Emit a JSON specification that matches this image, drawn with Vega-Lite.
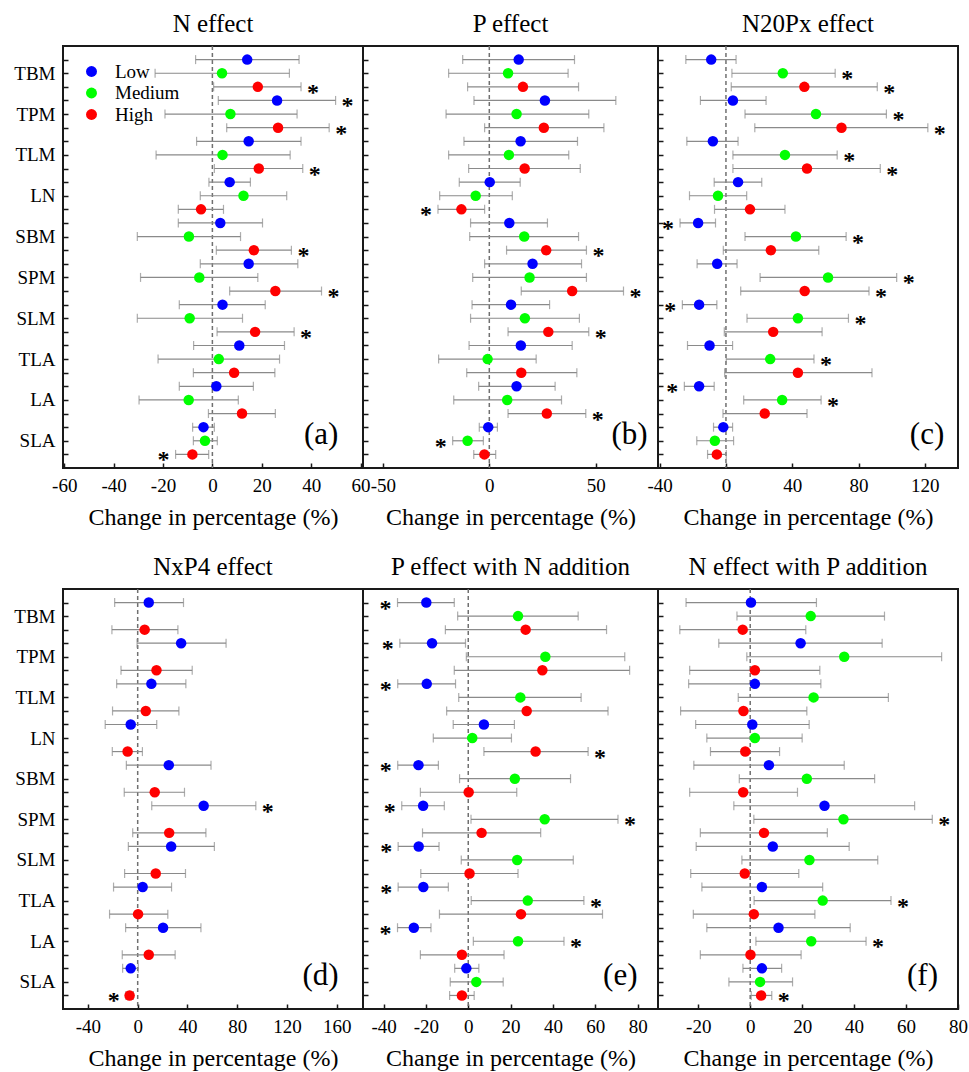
{
"$schema": "https://vega.github.io/schema/vega-lite/v6.json",
"padding": {"left": 12, "top": 11, "right": 0, "bottom": 0},
"config": {
 "font": "Liberation Serif",
 "view": {"stroke": "#1a1a1a", "strokeWidth": 2},
 "axis": {"domain": false, "grid": false, "tickColor": "#1a1a1a", "tickWidth": 1.5, "tickSize": -5, "labelFont": "Liberation Serif", "labelColor": "#000", "titleFont": "Liberation Serif", "titleColor": "#000", "titleFontWeight": "normal"},
 "axisX": {"labelFontSize": 19, "labelPadding": 13, "titleFontSize": 24, "titlePadding": 10, "labelOverlap": false, "labelFlush": false, "labelBound": false},
 "axisY": {"labelFontSize": 19, "labelPadding": 13, "minExtent": 0},
 "title": {"font": "Liberation Serif", "fontSize": 25, "fontWeight": "normal", "offset": 8, "color": "#000"}
},
"datasets": {"d": [
{"p":"a","k":"TBM Low","l":"Low","v":14.1,"lo":-6.8,"hi":35.1},
{"p":"a","k":"TBM Medium","l":"Medium","v":3.9,"lo":-23.2,"hi":31.2},
{"p":"a","k":"TBM High","l":"High","v":18.4,"lo":0.5,"hi":35.9,"s":"r"},
{"p":"a","k":"TPM Low","l":"Low","v":26.2,"lo":2.4,"hi":49.9,"s":"r"},
{"p":"a","k":"TPM Medium","l":"Medium","v":7.3,"lo":-19.2,"hi":34.3},
{"p":"a","k":"TPM High","l":"High","v":26.6,"lo":5.8,"hi":47.3,"s":"r"},
{"p":"a","k":"TLM Low","l":"Low","v":14.7,"lo":-6.4,"hi":35.9},
{"p":"a","k":"TLM Medium","l":"Medium","v":4.1,"lo":-22.8,"hi":31.5},
{"p":"a","k":"TLM High","l":"High","v":18.8,"lo":0.8,"hi":36.6,"s":"r"},
{"p":"a","k":"LN Low","l":"Low","v":7.0,"lo":-1.4,"hi":15.4},
{"p":"a","k":"LN Medium","l":"Medium","v":12.6,"lo":-4.9,"hi":30.1},
{"p":"a","k":"LN High","l":"High","v":-4.6,"lo":-13.8,"hi":4.5},
{"p":"a","k":"SBM Low","l":"Low","v":3.2,"lo":-13.8,"hi":20.3},
{"p":"a","k":"SBM Medium","l":"Medium","v":-9.5,"lo":-30.4,"hi":11.4},
{"p":"a","k":"SBM High","l":"High","v":16.8,"lo":1.6,"hi":32.0,"s":"r"},
{"p":"a","k":"SPM Low","l":"Low","v":14.7,"lo":-4.9,"hi":34.6},
{"p":"a","k":"SPM Medium","l":"Medium","v":-5.3,"lo":-29.1,"hi":18.4},
{"p":"a","k":"SPM High","l":"High","v":25.5,"lo":7.0,"hi":44.2,"s":"r"},
{"p":"a","k":"SLM Low","l":"Low","v":4.1,"lo":-13.4,"hi":21.4},
{"p":"a","k":"SLM Medium","l":"Medium","v":-9.2,"lo":-30.4,"hi":12.2},
{"p":"a","k":"SLM High","l":"High","v":17.3,"lo":1.9,"hi":33.1,"s":"r"},
{"p":"a","k":"TLA Low","l":"Low","v":10.9,"lo":-7.6,"hi":29.2},
{"p":"a","k":"TLA Medium","l":"Medium","v":2.6,"lo":-22.0,"hi":27.2},
{"p":"a","k":"TLA High","l":"High","v":8.8,"lo":-7.7,"hi":25.3},
{"p":"a","k":"LA Low","l":"Low","v":1.6,"lo":-13.4,"hi":16.6},
{"p":"a","k":"LA Medium","l":"Medium","v":-9.6,"lo":-29.7,"hi":10.5},
{"p":"a","k":"LA High","l":"High","v":12.0,"lo":-1.6,"hi":25.5},
{"p":"a","k":"SLA Low","l":"Low","v":-3.6,"lo":-8.0,"hi":0.8},
{"p":"a","k":"SLA Medium","l":"Medium","v":-3.0,"lo":-7.7,"hi":2.0},
{"p":"a","k":"SLA High","l":"High","v":-8.1,"lo":-14.9,"hi":-1.5,"s":"l"},
{"p":"b","k":"TBM Low","l":"Low","v":13.8,"lo":-12.5,"hi":40.0},
{"p":"b","k":"TBM Medium","l":"Medium","v":8.8,"lo":-19.1,"hi":37.0},
{"p":"b","k":"TBM High","l":"High","v":15.8,"lo":-10.2,"hi":41.9},
{"p":"b","k":"TPM Low","l":"Low","v":26.1,"lo":-7.2,"hi":59.4},
{"p":"b","k":"TPM Medium","l":"Medium","v":12.8,"lo":-20.3,"hi":46.7},
{"p":"b","k":"TPM High","l":"High","v":25.6,"lo":-2.2,"hi":53.8},
{"p":"b","k":"TLM Low","l":"Low","v":14.7,"lo":-11.9,"hi":41.4},
{"p":"b","k":"TLM Medium","l":"Medium","v":9.2,"lo":-19.1,"hi":37.3},
{"p":"b","k":"TLM High","l":"High","v":16.6,"lo":-9.7,"hi":42.7},
{"p":"b","k":"LN Low","l":"Low","v":0.2,"lo":-14.1,"hi":14.5},
{"p":"b","k":"LN Medium","l":"Medium","v":-6.4,"lo":-23.3,"hi":10.8},
{"p":"b","k":"LN High","l":"High","v":-13.1,"lo":-24.1,"hi":-2.2,"s":"l"},
{"p":"b","k":"SBM Low","l":"Low","v":9.4,"lo":-8.8,"hi":27.3},
{"p":"b","k":"SBM Medium","l":"Medium","v":16.4,"lo":-9.2,"hi":41.9},
{"p":"b","k":"SBM High","l":"High","v":26.7,"lo":8.1,"hi":45.6,"s":"r"},
{"p":"b","k":"SPM Low","l":"Low","v":20.3,"lo":-2.2,"hi":43.3},
{"p":"b","k":"SPM Medium","l":"Medium","v":18.9,"lo":-7.8,"hi":45.6},
{"p":"b","k":"SPM High","l":"High","v":38.9,"lo":15.0,"hi":63.0,"s":"r"},
{"p":"b","k":"SLM Low","l":"Low","v":10.2,"lo":-8.1,"hi":28.3},
{"p":"b","k":"SLM Medium","l":"Medium","v":16.7,"lo":-8.8,"hi":42.3},
{"p":"b","k":"SLM High","l":"High","v":27.7,"lo":8.8,"hi":46.7,"s":"r"},
{"p":"b","k":"TLA Low","l":"Low","v":14.8,"lo":-9.5,"hi":38.9},
{"p":"b","k":"TLA Medium","l":"Medium","v":-0.8,"lo":-23.8,"hi":22.0},
{"p":"b","k":"TLA High","l":"High","v":15.0,"lo":-10.6,"hi":41.1},
{"p":"b","k":"LA Low","l":"Low","v":12.8,"lo":-5.0,"hi":30.9},
{"p":"b","k":"LA Medium","l":"Medium","v":8.4,"lo":-16.7,"hi":33.9},
{"p":"b","k":"LA High","l":"High","v":27.0,"lo":8.8,"hi":45.3,"s":"r"},
{"p":"b","k":"SLA Low","l":"Low","v":-0.5,"lo":-4.7,"hi":3.8},
{"p":"b","k":"SLA Medium","l":"Medium","v":-10.2,"lo":-17.2,"hi":-2.8,"s":"l"},
{"p":"b","k":"SLA High","l":"High","v":-2.3,"lo":-7.3,"hi":3.0},
{"p":"c","k":"TBM Low","l":"Low","v":-8.9,"lo":-24.2,"hi":6.1},
{"p":"c","k":"TBM Medium","l":"Medium","v":34.3,"lo":3.6,"hi":65.9,"s":"r"},
{"p":"c","k":"TBM High","l":"High","v":47.3,"lo":3.2,"hi":91.3,"s":"r"},
{"p":"c","k":"TPM Low","l":"Low","v":4.2,"lo":-15.4,"hi":24.2},
{"p":"c","k":"TPM Medium","l":"Medium","v":54.3,"lo":11.5,"hi":96.8,"s":"r"},
{"p":"c","k":"TPM High","l":"High","v":69.7,"lo":17.4,"hi":121.8,"s":"r"},
{"p":"c","k":"TLM Low","l":"Low","v":-7.9,"lo":-23.6,"hi":7.3},
{"p":"c","k":"TLM Medium","l":"Medium","v":35.6,"lo":4.2,"hi":67.1,"s":"r"},
{"p":"c","k":"TLM High","l":"High","v":48.9,"lo":4.2,"hi":93.1,"s":"r"},
{"p":"c","k":"LN Low","l":"Low","v":7.3,"lo":-7.1,"hi":21.6},
{"p":"c","k":"LN Medium","l":"Medium","v":-4.8,"lo":-22.0,"hi":12.5},
{"p":"c","k":"LN High","l":"High","v":14.5,"lo":-6.9,"hi":35.6},
{"p":"c","k":"SBM Low","l":"Low","v":-16.8,"lo":-27.7,"hi":-6.3,"s":"l"},
{"p":"c","k":"SBM Medium","l":"Medium","v":42.2,"lo":11.5,"hi":72.5,"s":"r"},
{"p":"c","k":"SBM High","l":"High","v":27.1,"lo":-1.6,"hi":56.0},
{"p":"c","k":"SPM Low","l":"Low","v":-5.3,"lo":-17.4,"hi":6.7},
{"p":"c","k":"SPM Medium","l":"Medium","v":61.6,"lo":20.6,"hi":103.0,"s":"r"},
{"p":"c","k":"SPM High","l":"High","v":47.5,"lo":8.9,"hi":86.3,"s":"r"},
{"p":"c","k":"SLM Low","l":"Low","v":-16.2,"lo":-26.3,"hi":-5.5,"s":"l"},
{"p":"c","k":"SLM Medium","l":"Medium","v":43.4,"lo":12.7,"hi":73.9,"s":"r"},
{"p":"c","k":"SLM High","l":"High","v":28.5,"lo":-1.0,"hi":58.0},
{"p":"c","k":"TLA Low","l":"Low","v":-9.9,"lo":-23.2,"hi":4.0},
{"p":"c","k":"TLA Medium","l":"Medium","v":26.7,"lo":0.2,"hi":53.1,"s":"r"},
{"p":"c","k":"TLA High","l":"High","v":43.4,"lo":-0.8,"hi":88.1},
{"p":"c","k":"LA Low","l":"Low","v":-16.2,"lo":-25.1,"hi":-7.1,"s":"l"},
{"p":"c","k":"LA Medium","l":"Medium","v":33.9,"lo":10.7,"hi":57.4,"s":"r"},
{"p":"c","k":"LA High","l":"High","v":23.4,"lo":-1.8,"hi":48.9},
{"p":"c","k":"SLA Low","l":"Low","v":-1.6,"lo":-7.5,"hi":4.0},
{"p":"c","k":"SLA Medium","l":"Medium","v":-6.7,"lo":-17.6,"hi":4.6},
{"p":"c","k":"SLA High","l":"High","v":-5.5,"lo":-11.1,"hi":0.2},
{"p":"d","k":"TBM Low","l":"Low","v":8.9,"lo":-18.5,"hi":36.8},
{"p":"d","k":"TBM High","l":"High","v":5.6,"lo":-20.7,"hi":32.3},
{"p":"d","k":"TPM Low","l":"Low","v":34.9,"lo":-0.5,"hi":71.0},
{"p":"d","k":"TPM High","l":"High","v":15.1,"lo":-13.4,"hi":43.8},
{"p":"d","k":"TLM Low","l":"Low","v":11.0,"lo":-16.9,"hi":38.7},
{"p":"d","k":"TLM High","l":"High","v":6.5,"lo":-20.2,"hi":33.1},
{"p":"d","k":"LN Low","l":"Low","v":-5.6,"lo":-26.1,"hi":15.3},
{"p":"d","k":"LN High","l":"High","v":-8.1,"lo":-20.4,"hi":3.8},
{"p":"d","k":"SBM Low","l":"Low","v":25.0,"lo":-9.1,"hi":58.9},
{"p":"d","k":"SBM High","l":"High","v":13.7,"lo":-10.8,"hi":37.6},
{"p":"d","k":"SPM Low","l":"Low","v":53.0,"lo":11.3,"hi":94.9,"s":"r"},
{"p":"d","k":"SPM High","l":"High","v":25.3,"lo":-4.0,"hi":54.8},
{"p":"d","k":"SLM Low","l":"Low","v":26.9,"lo":-7.5,"hi":61.6},
{"p":"d","k":"SLM High","l":"High","v":14.5,"lo":-10.5,"hi":38.4},
{"p":"d","k":"TLA Low","l":"Low","v":4.0,"lo":-19.4,"hi":27.2},
{"p":"d","k":"TLA High","l":"High","v":0.3,"lo":-22.6,"hi":24.2},
{"p":"d","k":"LA Low","l":"Low","v":20.4,"lo":-9.7,"hi":50.8},
{"p":"d","k":"LA High","l":"High","v":8.9,"lo":-12.4,"hi":30.1},
{"p":"d","k":"SLA Low","l":"Low","v":-5.6,"lo":-12.1,"hi":0.5},
{"p":"d","k":"SLA High","l":"High","v":-6.5,"lo":-9.5,"hi":-3.5,"s":"l"},
{"p":"e","k":"TBM Low","l":"Low","v":-19.8,"lo":-33.4,"hi":-6.6,"s":"l"},
{"p":"e","k":"TBM Medium","l":"Medium","v":23.5,"lo":-5.0,"hi":51.9},
{"p":"e","k":"TBM High","l":"High","v":27.1,"lo":-10.8,"hi":65.3},
{"p":"e","k":"TPM Low","l":"Low","v":-17.1,"lo":-32.3,"hi":-1.3,"s":"l"},
{"p":"e","k":"TPM Medium","l":"Medium","v":36.4,"lo":-0.9,"hi":73.9},
{"p":"e","k":"TPM High","l":"High","v":35.0,"lo":-6.6,"hi":76.2},
{"p":"e","k":"TLM Low","l":"Low","v":-19.6,"lo":-33.3,"hi":-6.0,"s":"l"},
{"p":"e","k":"TLM Medium","l":"Medium","v":24.6,"lo":-4.5,"hi":53.3},
{"p":"e","k":"TLM High","l":"High","v":27.6,"lo":-10.2,"hi":66.0},
{"p":"e","k":"LN Low","l":"Low","v":7.4,"lo":-7.1,"hi":21.8},
{"p":"e","k":"LN Medium","l":"Medium","v":1.9,"lo":-16.5,"hi":20.4},
{"p":"e","k":"LN High","l":"High","v":31.8,"lo":7.4,"hi":56.6,"s":"r"},
{"p":"e","k":"SBM Low","l":"Low","v":-23.5,"lo":-33.3,"hi":-14.1,"s":"l"},
{"p":"e","k":"SBM Medium","l":"Medium","v":22.0,"lo":-4.1,"hi":48.3},
{"p":"e","k":"SBM High","l":"High","v":0.2,"lo":-22.6,"hi":22.9},
{"p":"e","k":"SPM Low","l":"Low","v":-21.3,"lo":-31.4,"hi":-11.3,"s":"l"},
{"p":"e","k":"SPM Medium","l":"Medium","v":36.1,"lo":1.3,"hi":70.7,"s":"r"},
{"p":"e","k":"SPM High","l":"High","v":6.3,"lo":-21.6,"hi":34.2},
{"p":"e","k":"SLM Low","l":"Low","v":-23.4,"lo":-33.1,"hi":-13.8,"s":"l"},
{"p":"e","k":"SLM Medium","l":"Medium","v":23.1,"lo":-3.3,"hi":49.6},
{"p":"e","k":"SLM High","l":"High","v":0.6,"lo":-22.4,"hi":23.5},
{"p":"e","k":"TLA Low","l":"Low","v":-21.2,"lo":-33.1,"hi":-9.4,"s":"l"},
{"p":"e","k":"TLA Medium","l":"Medium","v":28.1,"lo":1.4,"hi":54.6,"s":"r"},
{"p":"e","k":"TLA High","l":"High","v":24.9,"lo":-13.6,"hi":63.4},
{"p":"e","k":"LA Low","l":"Low","v":-25.7,"lo":-33.4,"hi":-17.6,"s":"l"},
{"p":"e","k":"LA Medium","l":"Medium","v":23.5,"lo":2.4,"hi":45.2,"s":"r"},
{"p":"e","k":"LA High","l":"High","v":-3.0,"lo":-22.6,"hi":16.9},
{"p":"e","k":"SLA Low","l":"Low","v":-0.9,"lo":-6.4,"hi":5.0},
{"p":"e","k":"SLA Medium","l":"Medium","v":3.8,"lo":-8.5,"hi":16.5},
{"p":"e","k":"SLA High","l":"High","v":-3.0,"lo":-8.8,"hi":2.8},
{"p":"f","k":"TBM Low","l":"Low","v":0.3,"lo":-24.7,"hi":25.5},
{"p":"f","k":"TBM Medium","l":"Medium","v":23.3,"lo":-5.1,"hi":51.7},
{"p":"f","k":"TBM High","l":"High","v":-2.9,"lo":-27.1,"hi":21.4},
{"p":"f","k":"TPM Low","l":"Low","v":19.4,"lo":-12.1,"hi":50.8},
{"p":"f","k":"TPM Medium","l":"Medium","v":36.2,"lo":-1.3,"hi":73.7},
{"p":"f","k":"TPM High","l":"High","v":1.8,"lo":-23.3,"hi":26.8},
{"p":"f","k":"TLM Low","l":"Low","v":1.8,"lo":-23.7,"hi":27.2},
{"p":"f","k":"TLM Medium","l":"Medium","v":24.4,"lo":-4.6,"hi":53.2},
{"p":"f","k":"TLM High","l":"High","v":-2.6,"lo":-26.8,"hi":21.8},
{"p":"f","k":"LN Low","l":"Low","v":0.8,"lo":-21.0,"hi":22.7},
{"p":"f","k":"LN Medium","l":"Medium","v":1.8,"lo":-16.7,"hi":20.0},
{"p":"f","k":"LN High","l":"High","v":-1.9,"lo":-15.3,"hi":11.3},
{"p":"f","k":"SBM Low","l":"Low","v":7.2,"lo":-21.7,"hi":36.2},
{"p":"f","k":"SBM Medium","l":"Medium","v":21.8,"lo":-4.2,"hi":47.9},
{"p":"f","k":"SBM High","l":"High","v":-2.7,"lo":-23.3,"hi":18.2},
{"p":"f","k":"SPM Low","l":"Low","v":28.6,"lo":-6.3,"hi":63.3},
{"p":"f","k":"SPM Medium","l":"Medium","v":35.9,"lo":1.4,"hi":70.1,"s":"r"},
{"p":"f","k":"SPM High","l":"High","v":5.3,"lo":-19.2,"hi":29.7},
{"p":"f","k":"SLM Low","l":"Low","v":8.7,"lo":-20.8,"hi":38.1},
{"p":"f","k":"SLM Medium","l":"Medium","v":22.8,"lo":-3.2,"hi":49.1},
{"p":"f","k":"SLM High","l":"High","v":-2.1,"lo":-22.9,"hi":18.7},
{"p":"f","k":"TLA Low","l":"Low","v":4.5,"lo":-18.6,"hi":27.9},
{"p":"f","k":"TLA Medium","l":"Medium","v":27.9,"lo":1.5,"hi":54.2,"s":"r"},
{"p":"f","k":"TLA High","l":"High","v":1.4,"lo":-21.9,"hi":24.9},
{"p":"f","k":"LA Low","l":"Low","v":10.9,"lo":-16.7,"hi":38.5},
{"p":"f","k":"LA Medium","l":"Medium","v":23.5,"lo":2.2,"hi":44.6,"s":"r"},
{"p":"f","k":"LA High","l":"High","v":0.1,"lo":-19.2,"hi":19.6},
{"p":"f","k":"SLA Low","l":"Low","v":4.5,"lo":-2.8,"hi":12.1},
{"p":"f","k":"SLA Medium","l":"Medium","v":3.8,"lo":-8.2,"hi":16.3},
{"p":"f","k":"SLA High","l":"High","v":4.2,"lo":0.4,"hi":8.3,"s":"r"}
]},
"vconcat": [
{"hconcat": [
 {"width": 300, "height": 422, "title": "N effect", "data": {"name": "d"}, "transform": [{"filter": "datum.p=='a'"}],
  "layer": [
   {"transform": [{"aggregate": [{"op": "count", "as": "n"}]}], "mark": {"type": "rule", "color": "#707070", "strokeDash": [4, 3], "strokeWidth": 1.5}, "encoding": {"x": {"datum": 0, "type": "quantitative"}}},
   {"encoding": {
     "x": {"field": "v", "type": "quantitative", "title": "Change in percentage (%)", "scale": {"domain": [-60.5, 61], "nice": false, "zero": false}, "axis": {"values": [-60, -40, -20, 0, 20, 40, 60], "labelExpr": "''+datum.value"}},
     "y": {"field": "k", "type": "nominal", "title": null, "scale": {"type": "point", "padding": 1, "domain": ["TBM Low","TBM Medium","TBM High","TPM Low","TPM Medium","TPM High","TLM Low","TLM Medium","TLM High","LN Low","LN Medium","LN High","SBM Low","SBM Medium","SBM High","SPM Low","SPM Medium","SPM High","SLM Low","SLM Medium","SLM High","TLA Low","TLA Medium","TLA High","LA Low","LA Medium","LA High","SLA Low","SLA Medium","SLA High"]}, "axis": {"labelExpr": "indexof(datum.label,'Medium')>0?split(datum.label,' ')[0]:''"}}},
    "layer": [
     {"mark": {"type": "rule", "color": "#8a8a8a", "strokeWidth": 1.2}, "encoding": {"x": {"field": "lo", "type": "quantitative"}, "x2": {"field": "hi"}}},
     {"mark": {"type": "tick", "orient": "vertical", "color": "#8a8a8a", "size": 9, "thickness": 1.2}, "encoding": {"x": {"field": "lo", "type": "quantitative"}}},
     {"mark": {"type": "tick", "orient": "vertical", "color": "#8a8a8a", "size": 9, "thickness": 1.2}, "encoding": {"x": {"field": "hi", "type": "quantitative"}}},
     {"mark": {"type": "circle", "size": 110, "opacity": 1}, "encoding": {"color": {"field": "l", "type": "nominal", "scale": {"domain": ["Low", "Medium", "High"], "range": ["#0000ff", "#00ff00", "#ff0000"]}, "legend": {"orient": "top-left", "title": null, "offset": 16, "padding": 0, "symbolOffset": 3, "labelOffset": 14, "rowPadding": 1.5, "labelFontSize": 19, "labelFont": "Liberation Serif", "labelColor": "#000", "symbolSize": 120, "symbolType": "circle", "symbolStrokeWidth": 0}}}},
     {"transform": [{"filter": "datum.s=='r'"}], "mark": {"type": "text", "text": "*", "fontSize": 24, "fontWeight": "bold", "align": "center", "baseline": "alphabetic", "dx": 12, "dy": 13, "color": "#000"}, "encoding": {"x": {"field": "hi", "type": "quantitative"}}},
     {"transform": [{"filter": "datum.s=='l'"}], "mark": {"type": "text", "text": "*", "fontSize": 24, "fontWeight": "bold", "align": "center", "baseline": "alphabetic", "dx": -12, "dy": 13, "color": "#000"}, "encoding": {"x": {"field": "lo", "type": "quantitative"}}}
    ]},
   {"transform": [{"aggregate": [{"op": "count", "as": "n"}]}], "mark": {"type": "text", "text": "(a)", "fontSize": 31, "align": "right", "baseline": "middle", "dy": -6, "color": "#000"}, "encoding": {"x": {"datum": 51, "type": "quantitative"}, "y": {"datum": "SLA Medium", "type": "nominal"}}}
  ]},
 {"width": 295, "height": 422, "title": "P effect", "data": {"name": "d"}, "transform": [{"filter": "datum.p=='b'"}],
  "layer": [
   {"transform": [{"aggregate": [{"op": "count", "as": "n"}]}], "mark": {"type": "rule", "color": "#707070", "strokeDash": [4, 3], "strokeWidth": 1.5}, "encoding": {"x": {"datum": 0, "type": "quantitative"}}},
   {"encoding": {
     "x": {"field": "v", "type": "quantitative", "title": "Change in percentage (%)", "scale": {"domain": [-59.3, 79.2], "nice": false, "zero": false}, "axis": {"values": [-50, 0, 50], "labelExpr": "''+datum.value"}},
     "y": {"field": "k", "type": "nominal", "title": null, "scale": {"type": "point", "padding": 1, "domain": ["TBM Low","TBM Medium","TBM High","TPM Low","TPM Medium","TPM High","TLM Low","TLM Medium","TLM High","LN Low","LN Medium","LN High","SBM Low","SBM Medium","SBM High","SPM Low","SPM Medium","SPM High","SLM Low","SLM Medium","SLM High","TLA Low","TLA Medium","TLA High","LA Low","LA Medium","LA High","SLA Low","SLA Medium","SLA High"]}, "axis": {"labels": false}}},
    "layer": [
     {"mark": {"type": "rule", "color": "#8a8a8a", "strokeWidth": 1.2}, "encoding": {"x": {"field": "lo", "type": "quantitative"}, "x2": {"field": "hi"}}},
     {"mark": {"type": "tick", "orient": "vertical", "color": "#8a8a8a", "size": 9, "thickness": 1.2}, "encoding": {"x": {"field": "lo", "type": "quantitative"}}},
     {"mark": {"type": "tick", "orient": "vertical", "color": "#8a8a8a", "size": 9, "thickness": 1.2}, "encoding": {"x": {"field": "hi", "type": "quantitative"}}},
     {"mark": {"type": "circle", "size": 110, "opacity": 1}, "encoding": {"color": {"field": "l", "type": "nominal", "scale": {"domain": ["Low", "Medium", "High"], "range": ["#0000ff", "#00ff00", "#ff0000"]}, "legend": null}}},
     {"transform": [{"filter": "datum.s=='r'"}], "mark": {"type": "text", "text": "*", "fontSize": 24, "fontWeight": "bold", "align": "center", "baseline": "alphabetic", "dx": 12, "dy": 13, "color": "#000"}, "encoding": {"x": {"field": "hi", "type": "quantitative"}}},
     {"transform": [{"filter": "datum.s=='l'"}], "mark": {"type": "text", "text": "*", "fontSize": 24, "fontWeight": "bold", "align": "center", "baseline": "alphabetic", "dx": -12, "dy": 13, "color": "#000"}, "encoding": {"x": {"field": "lo", "type": "quantitative"}}}
    ]},
   {"transform": [{"aggregate": [{"op": "count", "as": "n"}]}], "mark": {"type": "text", "text": "(b)", "fontSize": 31, "align": "right", "baseline": "middle", "dy": -6, "color": "#000"}, "encoding": {"x": {"datum": 74.3, "type": "quantitative"}, "y": {"datum": "SLA Medium", "type": "nominal"}}}
  ]},
 {"width": 300, "height": 422, "title": "N20Px effect", "data": {"name": "d"}, "transform": [{"filter": "datum.p=='c'"}],
  "layer": [
   {"transform": [{"aggregate": [{"op": "count", "as": "n"}]}], "mark": {"type": "rule", "color": "#707070", "strokeDash": [4, 3], "strokeWidth": 1.5}, "encoding": {"x": {"datum": 0, "type": "quantitative"}}},
   {"encoding": {
     "x": {"field": "v", "type": "quantitative", "title": "Change in percentage (%)", "scale": {"domain": [-41, 140], "nice": false, "zero": false}, "axis": {"values": [-40, 0, 40, 80, 120], "labelExpr": "''+datum.value"}},
     "y": {"field": "k", "type": "nominal", "title": null, "scale": {"type": "point", "padding": 1, "domain": ["TBM Low","TBM Medium","TBM High","TPM Low","TPM Medium","TPM High","TLM Low","TLM Medium","TLM High","LN Low","LN Medium","LN High","SBM Low","SBM Medium","SBM High","SPM Low","SPM Medium","SPM High","SLM Low","SLM Medium","SLM High","TLA Low","TLA Medium","TLA High","LA Low","LA Medium","LA High","SLA Low","SLA Medium","SLA High"]}, "axis": {"labels": false}}},
    "layer": [
     {"mark": {"type": "rule", "color": "#8a8a8a", "strokeWidth": 1.2}, "encoding": {"x": {"field": "lo", "type": "quantitative"}, "x2": {"field": "hi"}}},
     {"mark": {"type": "tick", "orient": "vertical", "color": "#8a8a8a", "size": 9, "thickness": 1.2}, "encoding": {"x": {"field": "lo", "type": "quantitative"}}},
     {"mark": {"type": "tick", "orient": "vertical", "color": "#8a8a8a", "size": 9, "thickness": 1.2}, "encoding": {"x": {"field": "hi", "type": "quantitative"}}},
     {"mark": {"type": "circle", "size": 110, "opacity": 1}, "encoding": {"color": {"field": "l", "type": "nominal", "scale": {"domain": ["Low", "Medium", "High"], "range": ["#0000ff", "#00ff00", "#ff0000"]}, "legend": null}}},
     {"transform": [{"filter": "datum.s=='r'"}], "mark": {"type": "text", "text": "*", "fontSize": 24, "fontWeight": "bold", "align": "center", "baseline": "alphabetic", "dx": 12, "dy": 13, "color": "#000"}, "encoding": {"x": {"field": "hi", "type": "quantitative"}}},
     {"transform": [{"filter": "datum.s=='l'"}], "mark": {"type": "text", "text": "*", "fontSize": 24, "fontWeight": "bold", "align": "center", "baseline": "alphabetic", "dx": -12, "dy": 13, "color": "#000"}, "encoding": {"x": {"field": "lo", "type": "quantitative"}}}
    ]},
   {"transform": [{"aggregate": [{"op": "count", "as": "n"}]}], "mark": {"type": "text", "text": "(c)", "fontSize": 31, "align": "right", "baseline": "middle", "dy": -6, "color": "#000"}, "encoding": {"x": {"datum": 131.7, "type": "quantitative"}, "y": {"datum": "SLA Medium", "type": "nominal"}}}
  ]}
 ], "spacing": 0, "bounds": "flush", "resolve": {"scale": {"color": "independent"}}},
{"hconcat": [
 {"width": 300, "height": 420, "title": "NxP4 effect", "data": {"name": "d"}, "transform": [{"filter": "datum.p=='d'"}],
  "layer": [
   {"transform": [{"aggregate": [{"op": "count", "as": "n"}]}], "mark": {"type": "rule", "color": "#707070", "strokeDash": [4, 3], "strokeWidth": 1.5}, "encoding": {"x": {"datum": 0, "type": "quantitative"}}},
   {"encoding": {
     "x": {"field": "v", "type": "quantitative", "title": "Change in percentage (%)", "scale": {"domain": [-60, 181], "nice": false, "zero": false}, "axis": {"values": [-40, 0, 40, 80, 120, 160], "labelExpr": "''+datum.value"}},
     "y": {"field": "k", "type": "nominal", "title": null, "scale": {"type": "point", "padding": 1, "domain": ["TBM Low","TBM Medium","TBM High","TPM Low","TPM Medium","TPM High","TLM Low","TLM Medium","TLM High","LN Low","LN Medium","LN High","SBM Low","SBM Medium","SBM High","SPM Low","SPM Medium","SPM High","SLM Low","SLM Medium","SLM High","TLA Low","TLA Medium","TLA High","LA Low","LA Medium","LA High","SLA Low","SLA Medium","SLA High"]}, "axis": {"labelExpr": "indexof(datum.label,'Medium')>0?split(datum.label,' ')[0]:''"}}},
    "layer": [
     {"mark": {"type": "rule", "color": "#8a8a8a", "strokeWidth": 1.2}, "encoding": {"x": {"field": "lo", "type": "quantitative"}, "x2": {"field": "hi"}}},
     {"mark": {"type": "tick", "orient": "vertical", "color": "#8a8a8a", "size": 9, "thickness": 1.2}, "encoding": {"x": {"field": "lo", "type": "quantitative"}}},
     {"mark": {"type": "tick", "orient": "vertical", "color": "#8a8a8a", "size": 9, "thickness": 1.2}, "encoding": {"x": {"field": "hi", "type": "quantitative"}}},
     {"mark": {"type": "circle", "size": 110, "opacity": 1}, "encoding": {"color": {"field": "l", "type": "nominal", "scale": {"domain": ["Low", "Medium", "High"], "range": ["#0000ff", "#00ff00", "#ff0000"]}, "legend": null}}},
     {"transform": [{"filter": "datum.s=='r'"}], "mark": {"type": "text", "text": "*", "fontSize": 24, "fontWeight": "bold", "align": "center", "baseline": "alphabetic", "dx": 12, "dy": 13, "color": "#000"}, "encoding": {"x": {"field": "hi", "type": "quantitative"}}},
     {"transform": [{"filter": "datum.s=='l'"}], "mark": {"type": "text", "text": "*", "fontSize": 24, "fontWeight": "bold", "align": "center", "baseline": "alphabetic", "dx": -12, "dy": 13, "color": "#000"}, "encoding": {"x": {"field": "lo", "type": "quantitative"}}}
    ]},
   {"transform": [{"aggregate": [{"op": "count", "as": "n"}]}], "mark": {"type": "text", "text": "(d)", "fontSize": 31, "align": "right", "baseline": "middle", "dy": -6, "color": "#000"}, "encoding": {"x": {"datum": 161.4, "type": "quantitative"}, "y": {"datum": "SLA Medium", "type": "nominal"}}}
  ]},
 {"width": 295, "height": 420, "title": "P effect with N addition", "data": {"name": "d"}, "transform": [{"filter": "datum.p=='e'"}],
  "layer": [
   {"transform": [{"aggregate": [{"op": "count", "as": "n"}]}], "mark": {"type": "rule", "color": "#707070", "strokeDash": [4, 3], "strokeWidth": 1.5}, "encoding": {"x": {"datum": 0, "type": "quantitative"}}},
   {"encoding": {
     "x": {"field": "v", "type": "quantitative", "title": "Change in percentage (%)", "scale": {"domain": [-49.7, 89.6], "nice": false, "zero": false}, "axis": {"values": [-40, -20, 0, 20, 40, 60, 80], "labelExpr": "''+datum.value"}},
     "y": {"field": "k", "type": "nominal", "title": null, "scale": {"type": "point", "padding": 1, "domain": ["TBM Low","TBM Medium","TBM High","TPM Low","TPM Medium","TPM High","TLM Low","TLM Medium","TLM High","LN Low","LN Medium","LN High","SBM Low","SBM Medium","SBM High","SPM Low","SPM Medium","SPM High","SLM Low","SLM Medium","SLM High","TLA Low","TLA Medium","TLA High","LA Low","LA Medium","LA High","SLA Low","SLA Medium","SLA High"]}, "axis": {"labels": false}}},
    "layer": [
     {"mark": {"type": "rule", "color": "#8a8a8a", "strokeWidth": 1.2}, "encoding": {"x": {"field": "lo", "type": "quantitative"}, "x2": {"field": "hi"}}},
     {"mark": {"type": "tick", "orient": "vertical", "color": "#8a8a8a", "size": 9, "thickness": 1.2}, "encoding": {"x": {"field": "lo", "type": "quantitative"}}},
     {"mark": {"type": "tick", "orient": "vertical", "color": "#8a8a8a", "size": 9, "thickness": 1.2}, "encoding": {"x": {"field": "hi", "type": "quantitative"}}},
     {"mark": {"type": "circle", "size": 110, "opacity": 1}, "encoding": {"color": {"field": "l", "type": "nominal", "scale": {"domain": ["Low", "Medium", "High"], "range": ["#0000ff", "#00ff00", "#ff0000"]}, "legend": null}}},
     {"transform": [{"filter": "datum.s=='r'"}], "mark": {"type": "text", "text": "*", "fontSize": 24, "fontWeight": "bold", "align": "center", "baseline": "alphabetic", "dx": 12, "dy": 13, "color": "#000"}, "encoding": {"x": {"field": "hi", "type": "quantitative"}}},
     {"transform": [{"filter": "datum.s=='l'"}], "mark": {"type": "text", "text": "*", "fontSize": 24, "fontWeight": "bold", "align": "center", "baseline": "alphabetic", "dx": -12, "dy": 13, "color": "#000"}, "encoding": {"x": {"field": "lo", "type": "quantitative"}}}
    ]},
   {"transform": [{"aggregate": [{"op": "count", "as": "n"}]}], "mark": {"type": "text", "text": "(e)", "fontSize": 31, "align": "right", "baseline": "middle", "dy": -6, "color": "#000"}, "encoding": {"x": {"datum": 79.9, "type": "quantitative"}, "y": {"datum": "SLA Medium", "type": "nominal"}}}
  ]},
 {"width": 300, "height": 420, "title": "N effect with P addition", "data": {"name": "d"}, "transform": [{"filter": "datum.p=='f'"}],
  "layer": [
   {"transform": [{"aggregate": [{"op": "count", "as": "n"}]}], "mark": {"type": "rule", "color": "#707070", "strokeDash": [4, 3], "strokeWidth": 1.5}, "encoding": {"x": {"datum": 0, "type": "quantitative"}}},
   {"encoding": {
     "x": {"field": "v", "type": "quantitative", "title": "Change in percentage (%)", "scale": {"domain": [-35.5, 80], "nice": false, "zero": false}, "axis": {"values": [-20, 0, 20, 40, 60, 80], "labelExpr": "''+datum.value"}},
     "y": {"field": "k", "type": "nominal", "title": null, "scale": {"type": "point", "padding": 1, "domain": ["TBM Low","TBM Medium","TBM High","TPM Low","TPM Medium","TPM High","TLM Low","TLM Medium","TLM High","LN Low","LN Medium","LN High","SBM Low","SBM Medium","SBM High","SPM Low","SPM Medium","SPM High","SLM Low","SLM Medium","SLM High","TLA Low","TLA Medium","TLA High","LA Low","LA Medium","LA High","SLA Low","SLA Medium","SLA High"]}, "axis": {"labels": false}}},
    "layer": [
     {"mark": {"type": "rule", "color": "#8a8a8a", "strokeWidth": 1.2}, "encoding": {"x": {"field": "lo", "type": "quantitative"}, "x2": {"field": "hi"}}},
     {"mark": {"type": "tick", "orient": "vertical", "color": "#8a8a8a", "size": 9, "thickness": 1.2}, "encoding": {"x": {"field": "lo", "type": "quantitative"}}},
     {"mark": {"type": "tick", "orient": "vertical", "color": "#8a8a8a", "size": 9, "thickness": 1.2}, "encoding": {"x": {"field": "hi", "type": "quantitative"}}},
     {"mark": {"type": "circle", "size": 110, "opacity": 1}, "encoding": {"color": {"field": "l", "type": "nominal", "scale": {"domain": ["Low", "Medium", "High"], "range": ["#0000ff", "#00ff00", "#ff0000"]}, "legend": null}}},
     {"transform": [{"filter": "datum.s=='r'"}], "mark": {"type": "text", "text": "*", "fontSize": 24, "fontWeight": "bold", "align": "center", "baseline": "alphabetic", "dx": 12, "dy": 13, "color": "#000"}, "encoding": {"x": {"field": "hi", "type": "quantitative"}}},
     {"transform": [{"filter": "datum.s=='l'"}], "mark": {"type": "text", "text": "*", "fontSize": 24, "fontWeight": "bold", "align": "center", "baseline": "alphabetic", "dx": -12, "dy": 13, "color": "#000"}, "encoding": {"x": {"field": "lo", "type": "quantitative"}}}
    ]},
   {"transform": [{"aggregate": [{"op": "count", "as": "n"}]}], "mark": {"type": "text", "text": "(f)", "fontSize": 31, "align": "right", "baseline": "middle", "dy": -6, "color": "#000"}, "encoding": {"x": {"datum": 72.3, "type": "quantitative"}, "y": {"datum": "SLA Medium", "type": "nominal"}}}
  ]}
 ], "spacing": 0, "bounds": "flush", "resolve": {"scale": {"color": "independent"}}}
],
"spacing": 24, "bounds": "full",
"resolve": {"scale": {"color": "independent"}}
}
